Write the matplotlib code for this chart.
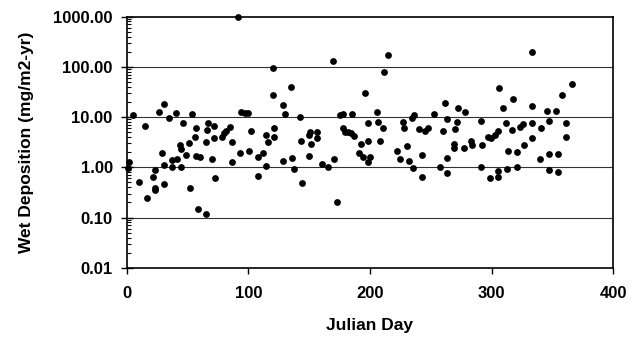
import numpy as np
import matplotlib
matplotlib.use('Agg')
import matplotlib.pyplot as plt
from matplotlib.ticker import FixedLocator, LogLocator, NullFormatter

plt.rcParams['font.family'] = ['Liberation Sans', 'DejaVu Sans']

# Julian day and wet deposition (mg/m2-yr)
julian_day = [
    5.5, 2, 1.2, 15, 10.4, 17, 23.3, 21.3, 23.3, 23.5,
    30.7, 26.8, 28.8, 30.7, 30.7, 35, 40.6, 37.6, 37.6, 41.6,
    44.5, 44.1, 44.5, 46, 49, 51.8, 51.4, 53.4, 56.1, 57.3,
    57.3, 60.2, 58.9, 64.9, 65.2, 65.8, 67.1, 72.1, 72.1, 72.5,
    69.9, 78, 79.9, 81.4, 84.8, 86.3, 86.3, 93.7, 93.4, 91.7,
    97.2, 100, 102.1, 100.5, 107.6, 107.6, 112.2, 114.2, 114.5, 116.4,
    121, 121, 120.5, 120, 128.2, 129.8, 128.7, 135, 135.6, 137.5,
    142.4, 143.2, 144.3, 149.8, 151.2, 149.8, 150.6, 156.1, 156.1, 160.2,
    165.7, 169.8, 170.6, 172.6, 175.3, 177.5, 178, 179.4, 182.1, 185.4,
    184.3, 186.8, 192.5, 191.1, 194.4, 196.1, 198, 198, 198.5, 200,
    214.5, 211.7, 205.4, 206.2, 208.1, 210.8, 221.9, 224.6, 226.8, 227.9,
    230.1, 232.2, 234.2, 236.1, 235.5, 240.4, 242.9, 242.4, 245.1, 247.8,
    252.8, 257.4, 259.7, 261.5, 262.9, 263.2, 262.9, 269.2, 269.2, 269.8,
    271.2, 272, 277.4, 278, 282.9, 283.7, 291.1, 291.7, 291.1, 297.1,
    298.5, 299.3, 302.6, 304.8, 305.3, 305.3, 305.9, 309, 311.7, 312.2,
    313.1, 317.2, 316.8, 320.5, 321, 323.2, 325.9, 326.7, 332.8, 332.8,
    332.8, 333.3, 339.6, 340.2, 345.6, 347, 347.3, 347.3, 352.8, 354.7,
    354.7, 357.4, 361, 361, 365.6,
]
wet_deposition = [
    11, 1.26, 0.95, 6.7, 0.52, 0.24, 0.88, 0.65, 0.39, 0.36,
    18, 12.5, 1.95, 1.1, 0.47, 9.5, 12, 1.4, 1.0, 1.46,
    1.0, 2.8, 2.3, 7.5, 1.76, 0.39, 3.0, 11.4, 4.1, 6.0,
    1.7, 1.6, 0.148, 0.12, 3.2, 5.5, 7.5, 6.7, 3.8, 0.62,
    1.46, 4.1, 4.8, 5.3, 6.3, 3.2, 1.3, 12.8, 1.9, 1000,
    12.3, 11.8, 5.3, 2.1, 1.6, 0.68, 1.95, 1.07, 4.5, 3.2,
    6.0, 4.1, 94, 27, 17.4, 11.5, 1.34, 40, 1.55, 0.93,
    10, 3.3, 0.48, 4.5, 2.9, 1.7, 5.0, 5.0, 3.9, 1.15,
    1.03, 133, 1.46, 0.20, 11, 11.4, 6.2, 5.0, 5.1, 11.4,
    4.9, 4.3, 2.9, 1.9, 1.6, 30, 7.7, 3.3, 1.3, 1.6,
    173, 80, 12.8, 8.1, 3.4, 6.0, 2.1, 1.44, 7.9, 6.2,
    2.6, 1.35, 9.5, 11, 0.95, 5.7, 1.76, 0.63, 5.4, 6.2,
    11.4, 1.0, 5.4, 18.7, 9.0, 1.55, 0.78, 2.9, 2.4, 5.8,
    7.9, 15.4, 2.45, 12.8, 3.3, 2.8, 8.5, 2.8, 1.0, 4.1,
    0.60, 3.8, 4.4, 5.3, 0.65, 0.86, 37.5, 15.4, 7.5, 0.93,
    2.1, 23, 5.5, 2.05, 1.03, 6.4, 7.2, 2.8, 200, 16.6,
    7.5, 3.8, 1.44, 6.2, 13.2, 8.4, 1.84, 0.88, 13.2, 1.84,
    0.79, 27.5, 7.5, 4.1, 45,
]

y_ticks = [0.01, 0.1, 1, 10, 100, 1000]
x_ticks = [0, 100, 200, 300, 400]

fig = plt.figure(figsize=(6.33, 3.39), dpi=100)
ax = fig.add_axes([0.2, 0.21, 0.769, 0.741])

ax.scatter(julian_day, wet_deposition, s=24, color='black', zorder=3,
           clip_on=False, linewidths=0)

ax.set_yscale('log')
ax.set_ylim(0.01, 1000)
ax.set_xlim(0, 400)

ax.yaxis.set_major_locator(FixedLocator(y_ticks))
ax.set_yticklabels([f"{v:.2f}" for v in y_ticks])
ax.yaxis.set_minor_locator(LogLocator(base=10, subs=np.arange(2, 10)))
ax.yaxis.set_minor_formatter(NullFormatter())
ax.set_xticks(x_ticks)

for v in y_ticks[1:-1]:
    ax.axhline(v, color='#333333', lw=0.8, zorder=1)

ax.tick_params(axis='y', which='major', direction='inout', length=8,
               width=1, labelsize=12, pad=6)
ax.tick_params(axis='y', which='minor', direction='in', length=3, width=0.8)
ax.tick_params(axis='x', direction='out', length=4, width=1,
               labelsize=12, pad=9)
for lab in ax.get_xticklabels() + ax.get_yticklabels():
    lab.set_fontweight('bold')

for sp in ax.spines.values():
    sp.set_linewidth(1.2)

ax.set_ylabel("Wet Deposition (mg/m2-yr)", fontsize=12.5, fontweight='bold')
ax.set_xlabel("Julian Day", fontsize=12.5, fontweight='bold')
ax.yaxis.set_label_coords(-0.19, 0.5)
ax.xaxis.set_label_coords(0.5, -0.2)

fig.savefig("out.png", dpi=100)
